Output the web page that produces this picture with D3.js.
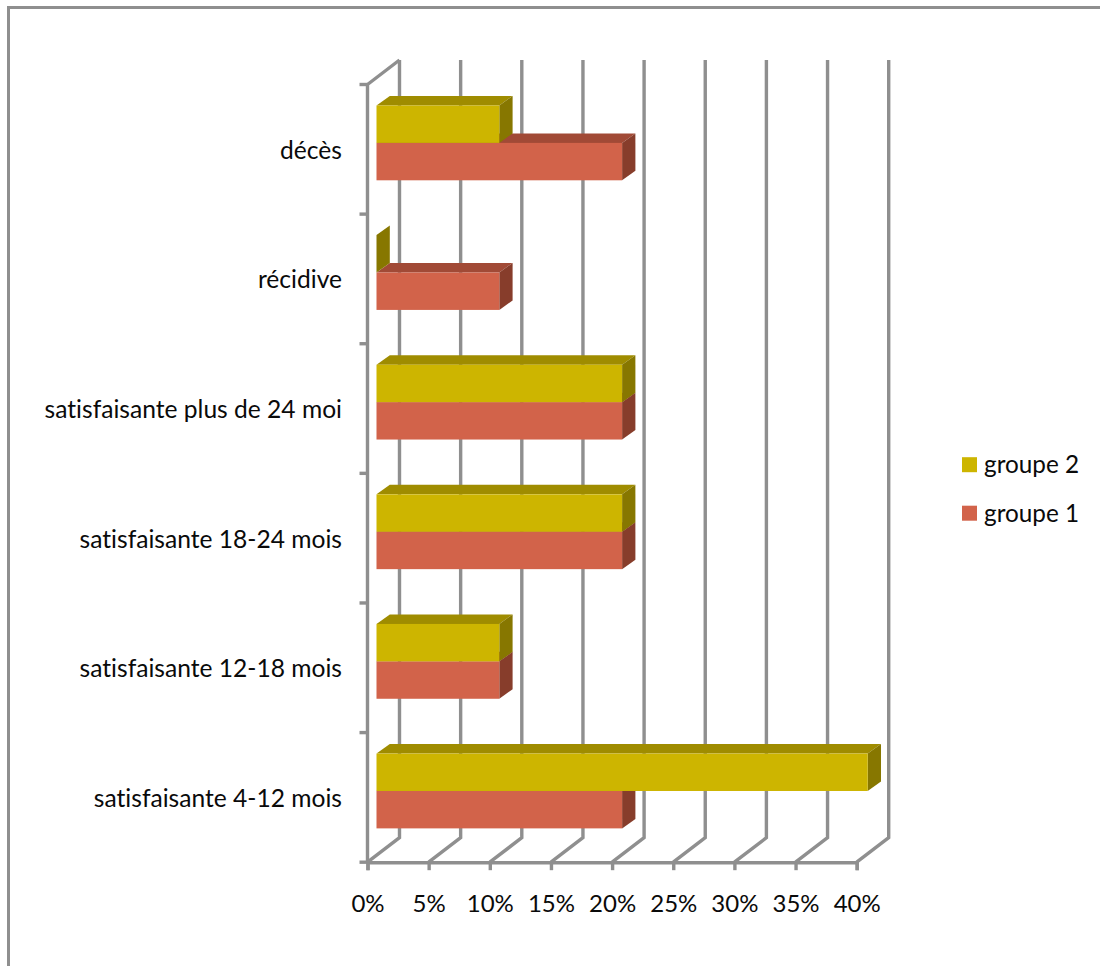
<!DOCTYPE html>
<html lang="fr">
<head>
<meta charset="utf-8">
<title>Groupes 1 et 2</title>
<script src="https://cdn.jsdelivr.net/npm/d3@7/dist/d3.min.js"></script>
<style>
  html, body { margin: 0; padding: 0; background: #fff; }
  svg { display: block; }
  text { font-family: Lato, "Open Sans", sans-serif; fill: #0a0a0a; font-variant-ligatures: none; }
</style>
</head>
<body>
<svg id="chart" width="1100" height="966"></svg>
<script>
// Chart data
const categories = [
  "décès",
  "récidive",
  "satisfaisante plus de 24 moi",
  "satisfaisante 18-24 mois",
  "satisfaisante 12-18 mois",
  "satisfaisante 4-12 mois"
];
const groupe1 = [20, 10, 20, 20, 10, 20];
const groupe2 = [10, 0, 20, 20, 10, 40];
const xTicks = [0, 5, 10, 15, 20, 25, 30, 35, 40];

// Red is painted first so that the yellow bar sits in front of its top face
const series = [
  { name: "groupe 1", values: groupe1, front: "#d2634a", top: "#a14a36", side: "#873d2b" },
  { name: "groupe 2", values: groupe2, front: "#cdb500", top: "#9f8c00", side: "#877700" }
];
const legendOrder = ["groupe 2", "groupe 1"];

const GRID = "#8f8f8f";
const FONT = 24;
const CATEGORY_FONT = 24.6;
const LEGEND_FONT = 24.3;
const STROKE = 3.4;

// Oblique projection of the plot box
const wallDx = 32, wallDy = -24.5;
const barDx = 13.3, barDy = -9.5;

const svg = d3.select("#chart");
const x = d3.scaleLinear().domain([0, 40]).range([367.5, 856.7]);
// Bars stand slightly behind the front plane, so they have a scale of their own
const xBar = d3.scaleLinear().domain([0, 40]).range([376.5, 867.7]);
const y = d3.scaleBand().domain(categories).range([84.5, 862.2]);
const floorY = y.range()[1];
const topY = y.range()[0];

// Outer frame, only its top and left edges fall inside the page
svg.append("path")
  .attr("d", "M8.5,966V7.5H1100")
  .attr("fill", "none").attr("stroke", GRID).attr("stroke-width", 3);

// Back wall gridlines and the floor lines that join them to the front edge
const grid = svg.append("g").attr("fill", "none").attr("stroke", GRID).attr("stroke-width", STROKE);
grid.selectAll("path.wall").data(xTicks).join("path")
  .attr("class", "wall")
  .attr("d", t => d3.line()([
    [x(t), floorY],
    [x(t) + wallDx, floorY + wallDy],
    [x(t) + wallDx, topY + wallDy]
  ]));

// Left wall edge with its top slant and the category separators
grid.append("path").attr("d", d3.line()([
  [x(0), floorY], [x(0), topY], [x(0) + wallDx, topY + wallDy]
]));
const separators = categories.map((c, i) => y.range()[0] + i * y.step()).concat(floorY);
grid.selectAll("line.sep").data(separators).join("line")
  .attr("class", "sep")
  .attr("x1", x(0) - 8).attr("x2", x(0)).attr("y1", d => d).attr("y2", d => d);

// Horizontal axis along the front of the floor
const xAxis = svg.append("g")
  .attr("transform", `translate(0,${floorY})`)
  .call(d3.axisBottom(x).tickValues(xTicks).tickFormat(d => d + "%").tickSize(8).tickPadding(24.5));
xAxis.select(".domain").attr("stroke", GRID).attr("stroke-width", STROKE);
xAxis.selectAll(".tick line").attr("stroke", GRID).attr("stroke-width", STROKE);
xAxis.selectAll("text").attr("font-size", FONT).attr("fill", "#0a0a0a");

// Category labels
const yAxis = svg.append("g")
  .attr("transform", `translate(${x(0)},0)`)
  .call(d3.axisLeft(y).tickSize(0).tickPadding(25.5));
yAxis.select(".domain").remove();
yAxis.selectAll("text").attr("font-size", CATEGORY_FONT).attr("fill", "#0a0a0a").attr("dy", "9.5px");

// Bars as three faces: front, top and right side
const barH = 37.4;
const bandInset = 21;
const poly = pts => d3.line()(pts) + "Z";

categories.forEach((cat, i) => {
  const bandTop = y(cat);
  series.forEach((s, j) => {
    const v = s.values[i];
    const yTop = bandTop + bandInset + (1 - j) * barH;
    const yBot = yTop + barH;
    const x0 = xBar(0);
    const x1 = xBar(v);
    const g = svg.append("g").attr("class", "bar");
    if (v > 0) {
      g.append("path").attr("fill", s.top).attr("d", poly([
        [x0, yTop], [x0 + barDx, yTop + barDy], [x1 + barDx, yTop + barDy], [x1, yTop]
      ]));
    }
    g.append("path").attr("fill", s.side).attr("d", poly([
      [x1, yTop], [x1 + barDx, yTop + barDy], [x1 + barDx, yBot + barDy], [x1, yBot]
    ]));
    if (v > 0) {
      g.append("rect").attr("fill", s.front)
        .attr("x", x0).attr("y", yTop).attr("width", x1 - x0).attr("height", barH);
    }
  });
});

// Legend
const legend = svg.append("g");
legendOrder.forEach((name, i) => {
  const s = series.find(d => d.name === name);
  const cy = 464.7 + i * 48.5;
  legend.append("rect").attr("x", 962).attr("y", cy - 7.5).attr("width", 15).attr("height", 15).attr("fill", s.front);
  legend.append("text").attr("x", 984).attr("y", cy + 8.3).attr("font-size", LEGEND_FONT).text(name);
});
</script>
</body>
</html>
